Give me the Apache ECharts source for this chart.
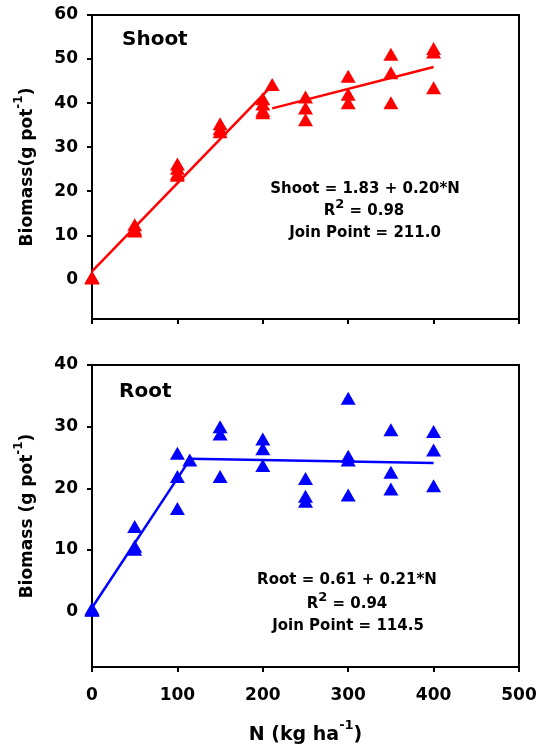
<!DOCTYPE html>
<html>
<head>
<meta charset="utf-8">
<script src="https://cdn.jsdelivr.net/npm/echarts@6/dist/echarts.min.js"></script>
<style>html,body{margin:0;padding:0;background:#fff;}#c{width:540px;height:746px;}</style>
</head>
<body>
<div id="c"></div>
<script>
// ---- data ----
const xTicks = [0, 100, 200, 300, 400, 500];
const shootTicks = [0, 10, 20, 30, 40, 50, 60];
const rootTicks = [0, 10, 20, 30, 40];

const shootN = [0,0,0, 50,50,50, 100,100,100,100, 150,150,150, 200,200,200,200, 250,250,250, 300,300,300, 350,350,350, 400,400,400];
const shootBiomass = [0.5,0.3,0.4, 12.4,11.4,11.0, 26.2,25.2,24.0,23.6, 35.3,34.2,33.5, 41.0,39.8,38.3,37.8, 41.4,38.9,36.2, 46.1,42.0,40.1, 51.1,46.9,40.1, 52.4,51.6,43.5];
const shootJoinN = [211];
const shootJoinBiomass = [44.2];
const shootFit1N = [0, 211];
const shootFit1Y = [1.83, 44.0];
const shootFit2N = [211, 400];
const shootFit2Y = [38.8, 48.2];

const rootN = [0,0,0, 50,50,50, 100,100,100, 150,150,150, 200,200,200, 250,250,250, 300,300,300,300, 350,350,350, 400,400,400];
const rootBiomass = [0.5,0.3,0.2, 13.8,10.6,10.1, 25.7,21.9,16.7, 30.0,28.8,21.9, 28.0,26.4,23.7, 21.6,18.7,17.9, 34.6,25.2,24.6,18.9, 29.5,22.6,19.9, 29.2,26.2,20.4];
const rootJoinN = [114.5];
const rootJoinBiomass = [24.6];
const rootFit1N = [0, 114.5];
const rootFit1Y = [0.61, 24.65];
const rootFit2N = [114.5, 400];
const rootFit2Y = [24.8, 24.1];

// ---- helpers ----
const zip = (a, b) => a.map((v, i) => [v, b[i]]);
const FONT = 'DejaVu Sans';
const RED = '#ff0000', BLUE = '#0000ff';

const supRich = (size, supSize) => ({
  a: { fontFamily: FONT, fontWeight: 'bold', fontSize: size, color: '#000', lineHeight: Math.round(size * 1.7), verticalAlign: 'middle' },
  s: { fontFamily: FONT, fontWeight: 'bold', fontSize: supSize, color: '#000', lineHeight: Math.round(supSize * 1.1), verticalAlign: 'top' }
});

function xAxisCfg(idx, showLabels) {
  return {
    gridIndex: idx, type: 'value', min: 0, max: 500, interval: 100,
    axisLine: { show: true, onZero: false, lineStyle: { color: '#000', width: 2 } },
    axisTick: { show: true, inside: false, length: 5, lineStyle: { color: '#000', width: 2 } },
    splitLine: { show: false },
    axisLabel: { show: showLabels, fontFamily: FONT, fontWeight: 'bold', fontSize: 17, color: '#000', margin: 20 },
    name: showLabels ? '{a|N (kg ha}{s|-1}{a|)}' : '',
    nameLocation: 'middle', nameGap: 52,
    nameTextStyle: { rich: supRich(19, 13) }
  };
}
function yAxisCfg(idx, max, ticks, name) {
  return {
    gridIndex: idx, type: 'value', min: -9, max: max,
    axisLine: { show: true, onZero: false, lineStyle: { color: '#000', width: 2 } },
    axisTick: { show: true, inside: false, length: 5, customValues: ticks, lineStyle: { color: '#000', width: 2 } },
    splitLine: { show: false },
    axisLabel: { customValues: ticks, fontFamily: FONT, fontWeight: 'bold', fontSize: 17, color: '#000', margin: 14 },
    name: name, nameLocation: 'middle', nameRotate: 90, nameGap: 50,
    nameTextStyle: { rich: supRich(17, 12) }
  };
}
function scatter(xi, x, y, color) {
  return {
    type: 'scatter', xAxisIndex: xi, yAxisIndex: xi, data: zip(x, y),
    symbol: 'triangle', symbolSize: [15, 13], itemStyle: { color: color, opacity: 1 }, z: 3
  };
}
function fit(xi, x, y, color) {
  return {
    type: 'line', xAxisIndex: xi, yAxisIndex: xi, data: zip(x, y), showSymbol: false, symbol: 'none',
    lineStyle: { color: color, width: 2.5 }, z: 4, animation: false
  };
}
function label(x, y, text, align, size) {
  return {
    type: 'text', x: x, y: y, z: 100,
    style: { text: text, textAlign: align, textVerticalAlign: 'middle', rich: supRich(size, Math.round(size * 0.85)), fill: '#000' }
  };
}

const chart = echarts.init(document.getElementById('c'), null, { renderer: 'canvas' });
chart.setOption({
  animation: false,
  backgroundColor: '#fff',
  grid: [
    { left: 92, right: 21, top: 15, height: 304, show: true, borderColor: '#000', borderWidth: 2, backgroundColor: 'transparent' },
    { left: 92, right: 21, top: 365, height: 302, show: true, borderColor: '#000', borderWidth: 2, backgroundColor: 'transparent' }
  ],
  xAxis: [xAxisCfg(0, false), xAxisCfg(1, true)],
  yAxis: [
    yAxisCfg(0, 60, shootTicks, '{a|Biomass(g pot}{s|-1}{a|)}'),
    yAxisCfg(1, 40, rootTicks, '{a|Biomass (g pot}{s|-1}{a|)}')
  ],
  series: [
    scatter(0, shootN, shootBiomass, RED),
    scatter(0, shootJoinN, shootJoinBiomass, RED),
    fit(0, shootFit1N, shootFit1Y, RED),
    fit(0, shootFit2N, shootFit2Y, RED),
    scatter(1, rootN, rootBiomass, BLUE),
    scatter(1, rootJoinN, rootJoinBiomass, BLUE),
    fit(1, rootFit1N, rootFit1Y, BLUE),
    fit(1, rootFit2N, rootFit2Y, BLUE)
  ],
  graphic: [
    label(122, 40, '{a|Shoot}', 'left', 20),
    label(365, 189, '{a|Shoot = 1.83 + 0.20*N}', 'center', 15),
    label(364, 211, '{a|R}{s|2}{a| = 0.98}', 'center', 15),
    label(365, 233, '{a|Join Point = 211.0}', 'center', 15),
    label(119, 392, '{a|Root}', 'left', 20),
    label(347, 580, '{a|Root = 0.61 + 0.21*N}', 'center', 15),
    label(347, 604, '{a|R}{s|2}{a| = 0.94}', 'center', 15),
    label(348, 626, '{a|Join Point = 114.5}', 'center', 15)
  ]
});
</script>
</body>
</html>
